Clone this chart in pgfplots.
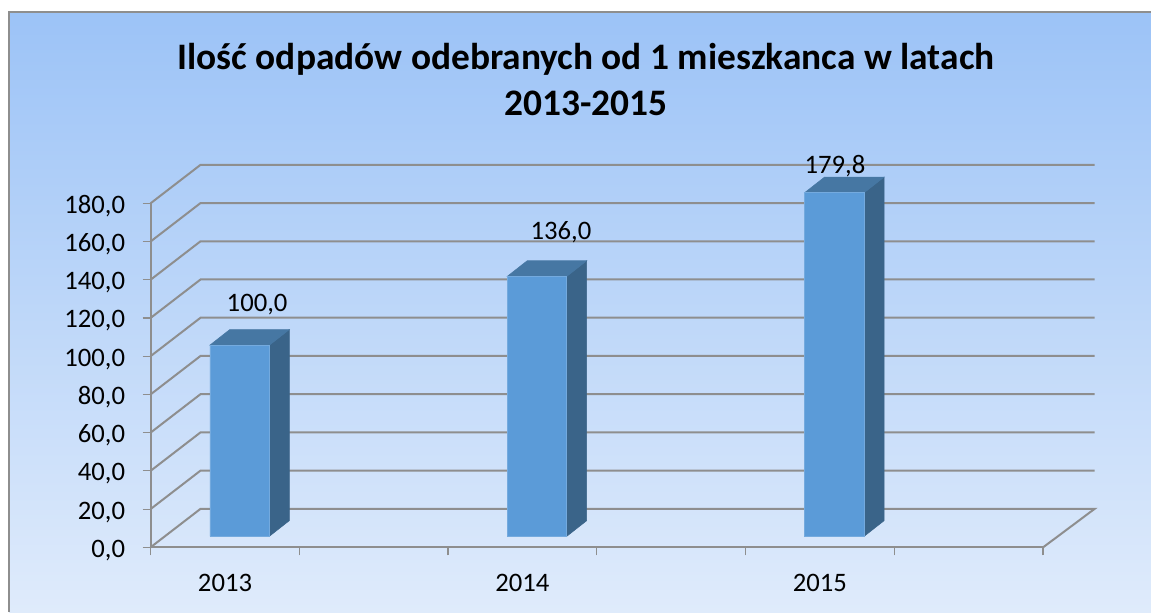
\documentclass[border=0pt]{standalone}
\usepackage{fontspec}
\setmainfont{Carlito}
\usepackage{pgfplots}
\pgfplotsset{compat=1.18}
\definecolor{axgray}{HTML}{8E8E8E}
\definecolor{barfront}{HTML}{5B9BD8}
\definecolor{bartop}{HTML}{4677A3}
\definecolor{barside}{HTML}{3A6489}
\definecolor{bgtop}{HTML}{9CC3F7}
\definecolor{bgbot}{HTML}{DFEBFB}
\begin{document}
\begin{tikzpicture}
\begin{scope}[x=0.75pt,y=0.75pt]
\useasboundingbox (0,0) rectangle (1151,612);
\fill[white] (0,0) rectangle (1151,612);
\shade[top color=bgtop,bottom color=bgbot,draw=none] (9,0) rectangle (1151,600);
\draw[axgray,line width=1.2pt] (9,0) -- (9,600) -- (1151,600);
\node[font=\fontsize{28.05pt}{35pt}\selectfont\bfseries,align=center,anchor=center] at (586,532.5)
  {Ilość odpadów odebranych od 1 mieszkanca w latach\\2013-2015};
\end{scope}
\begin{axis}[
  at={(112.9pt,48.5pt)},anchor=south west,
  scale only axis,width=669.4pt,height=258pt,
  xmin=-0.2993,xmax=2.7018,ymin=0,ymax=180,
  clip=false,
  axis lines*=left,
  axis line style={axgray,line width=1.5pt},
  ytick={0,20,...,180},
  xtick={-0.2993,0.2009,0.7011,1.2013,1.7015,2.2017,2.7018},xticklabels={},
  xtick style={draw=axgray,line width=0.9pt},
  extra x ticks={0,1,2},
  extra x tick labels={2013,2014,2015},
  extra x tick style={major tick length=0pt,tick style={draw=none},
     xticklabel style={xshift=-10.9pt,yshift=-16.5pt}},
  ytick style={draw=axgray,line width=0.9pt},
  tick align=outside,major tick length=6pt,
  scaled y ticks=false,
  tick label style={font=\fontsize{20pt}{24pt}\selectfont,text=black},
  yticklabel style={/pgf/number format/fixed,/pgf/number format/fixed zerofill,/pgf/number format/precision=1,/pgf/number format/use comma,/pgf/number format/1000 sep={},/pgf/number format/assume math mode=true,xshift=-9.5pt,yshift=-2.2pt},
]
% walls: front edge, back corner, right end
\pgfplotsset{grid line/.style={axgray,line width=1.5pt,forget plot}}
\addplot[grid line] coordinates {(-0.2993,20)(-0.1312,40.15)(2.8752,40.15)};
\addplot[grid line] coordinates {(-0.2993,40)(-0.1312,60.15)(2.8752,60.15)};
\addplot[grid line] coordinates {(-0.2993,60)(-0.1312,80.15)(2.8752,80.15)};
\addplot[grid line] coordinates {(-0.2993,80)(-0.1312,100.15)(2.8752,100.15)};
\addplot[grid line] coordinates {(-0.2993,100)(-0.1312,120.15)(2.8752,120.15)};
\addplot[grid line] coordinates {(-0.2993,120)(-0.1312,140.15)(2.8752,140.15)};
\addplot[grid line] coordinates {(-0.2993,140)(-0.1312,160.15)(2.8752,160.15)};
\addplot[grid line] coordinates {(-0.2993,160)(-0.1312,180.15)(2.8752,180.15)};
\addplot[grid line] coordinates {(-0.2993,180)(-0.1312,200.15)(2.8752,200.15)};
\addplot[grid line] coordinates {(-0.2993,0)(-0.1312,20.15)(2.8752,20.15)(2.7018,0)};
% bars, lifted off the floor by 11 px
\pgfplotsset{lifted/.style={yshift=8.25pt,forget plot}}
\addplot[lifted,fill=barside,draw=barside] coordinates {(0.1,0)(0.1672,8.2)(0.1672,108.2)(0.1,100)} --cycle;
\addplot[lifted,fill=bartop,draw=bartop] coordinates {(-0.1,100)(-0.0328,108.2)(0.1672,108.2)(0.1,100)} --cycle;
\addplot[lifted,fill=barside,draw=barside] coordinates {(1.1,0)(1.1672,8.2)(1.1672,144.2)(1.1,136)} --cycle;
\addplot[lifted,fill=bartop,draw=bartop] coordinates {(0.9,136)(0.9672,144.2)(1.1672,144.2)(1.1,136)} --cycle;
\addplot[lifted,fill=barside,draw=barside] coordinates {(2.1,0)(2.1672,8.2)(2.1672,188)(2.1,179.8)} --cycle;
\addplot[lifted,fill=bartop,draw=bartop] coordinates {(1.9,179.8)(1.9672,188)(2.1672,188)(2.1,179.8)} --cycle;
\addplot[lifted,ybar,bar width=44.6pt,bar shift=0pt,fill=barfront,draw=barfront!85!white] coordinates {(0,100)(1,136)(2,179.8)};
\node[font=\fontsize{20pt}{24pt}\selectfont] at (axis cs:0.059,127.3) {100,0};
\node[font=\fontsize{20pt}{24pt}\selectfont] at (axis cs:1.081,165) {136,0};
\node[font=\fontsize{20pt}{24pt}\selectfont] at (axis cs:2.002,199.5) {179,8};
\end{axis}
\end{tikzpicture}
\end{document}
